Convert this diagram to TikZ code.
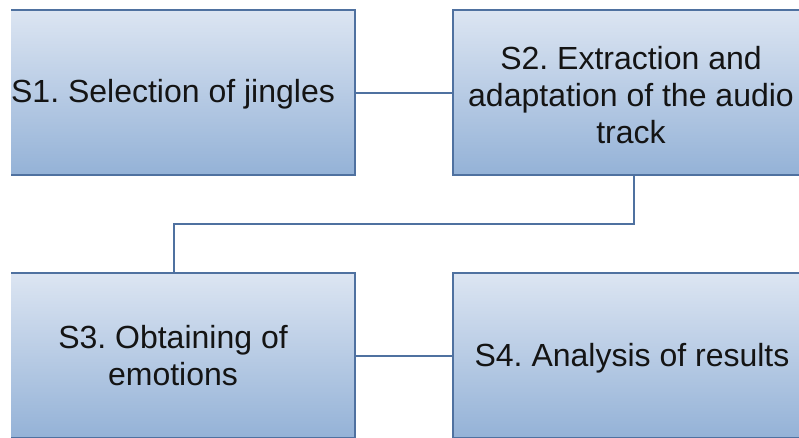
\documentclass[tikz,border=0pt]{standalone}
\usepackage{fontspec}
\setmainfont{Liberation Sans}
\frenchspacing
\definecolor{bordc}{RGB}{79,113,160}
\definecolor{topc}{RGB}{220,229,242}
\definecolor{botc}{RGB}{148,178,215}
\begin{document}
\begin{tikzpicture}[x=0.75pt,y=-0.75pt,
  box/.style={rectangle, inner sep=0pt, outer sep=0pt, top color=topc, bottom color=botc,
    draw=bordc, line width=2pt, minimum height=123.75pt},
  leftbox/.style={box, draw=none, minimum width=258pt},
  rightbox/.style={box, minimum width=271.5pt},
  bord/.style={draw=bordc, line width=2pt},
  lbl/.style={font=\fontsize{24}{27.75}\selectfont\frenchspacing, align=center, inner sep=0pt, text=black!92},
  conn/.style={draw=bordc, line width=1.5pt}]
\useasboundingbox (0,0) rectangle (799,437);
\node[leftbox] (S1) at (183,92.5) {};
\node[rightbox] (S2) at (634,92.5) {};
\node[leftbox] (S3) at (183,355.5) {};
\node[rightbox] (S4) at (634,355.5) {};
\draw[bord] (S1.north west) -- (S1.north east) -- (S1.south east) -- (S1.south west);
\draw[bord] (S3.north west) -- (S3.north east) -- (S3.south east) -- (S3.south west);
\draw[conn] (S1.east) -- (S2.west);
\draw[conn] (S3.east) -- (S4.west);
\draw[conn] (S2.south) -- ++(0,49) -| ([xshift=-6.75pt]S3.north);
\node[lbl, anchor=base] (t1) at (173,102) {S1. Selection of jingles};
\node[lbl, anchor=base] (t2) at (631,143) {S2. Extraction and\\adaptation of the audio\\track};
\node[lbl, anchor=base] (t3) at (173,385) {S3. Obtaining of\\emotions};
\node[lbl, anchor=base] (t4) at (632,366) {S4. Analysis of results};
\end{tikzpicture}
\end{document}
